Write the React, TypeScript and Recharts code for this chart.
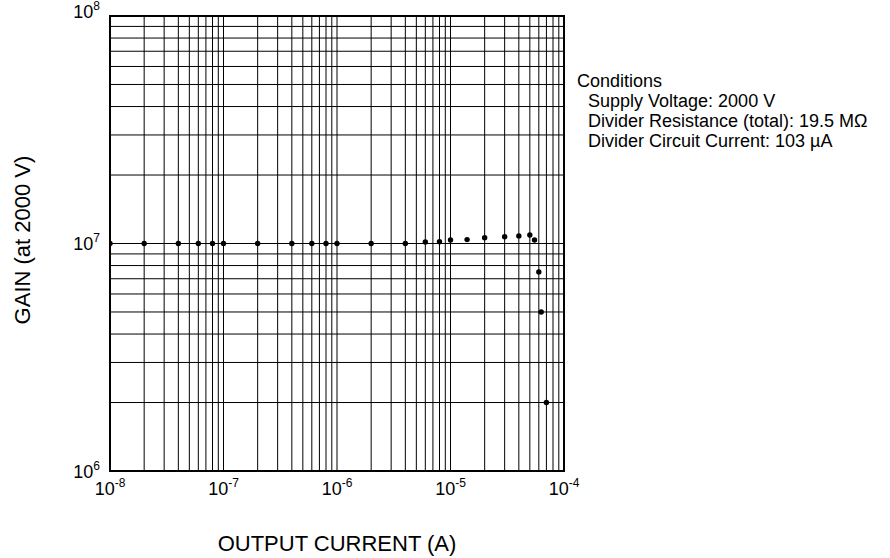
import { ScatterChart, Scatter, XAxis, YAxis, CartesianGrid, ReferenceArea } from "recharts";

// output current (A) at each measured point
const currents = [
  1e-8, 2e-8, 4e-8, 6e-8, 8e-8, 1e-7, 2e-7, 4e-7, 6e-7, 8e-7, 1e-6, 2e-6, 4e-6,
  6e-6, 8e-6, 1e-5, 1.4e-5, 2e-5, 3e-5, 4e-5, 5e-5, 5.5e-5, 6e-5, 6.3e-5, 7e-5,
];
// gain at 2000 V
const gains = [
  1e7, 1e7, 1e7, 1e7, 1e7, 1e7, 1e7, 1e7, 1e7, 1e7, 1e7, 1e7, 1e7,
  1.015e7, 1.018e7, 1.036e7, 1.04e7, 1.06e7, 1.07e7, 1.08e7, 1.09e7, 1.036e7, 7.5e6, 5.0e6, 2.0e6,
];

const xDecades = [1e-8, 1e-7, 1e-6, 1e-5, 1e-4];
const xExponents = ["-8", "-7", "-6", "-5", "-4"];
const yDecades = [1e6, 1e7, 1e8];
const yExponents = ["6", "7", "8"];

const conditionTitle = "Conditions";
const conditionLines = [
  "Supply Voltage: 2000 V",
  "Divider Resistance (total): 19.5 MΩ",
  "Divider Circuit Current: 103 µA",
];

const xTitle = "OUTPUT CURRENT (A)";
const yTitle = "GAIN (at 2000 V)";

const FONT = "'Liberation Sans', Arial, Helvetica, sans-serif";

// 1..9 inside each decade, for the log grid
function logGrid(decades: number[]) {
  const out: number[] = [];
  for (let i = 0; i < decades.length - 1; i++) {
    for (let m = 1; m < 10; m++) out.push(decades[i] * m);
  }
  out.push(decades[decades.length - 1]);
  return out;
}

const data = currents.map((c, i) => ({ current: c, gain: gains[i] }));

function decadeIndex(v: number, decades: number[]) {
  return decades.findIndex((d) => Math.abs(Math.log10(v) - Math.log10(d)) < 1e-6);
}

const XTick = (props: any) => {
  const { x, y, payload } = props;
  const i = decadeIndex(payload.value, xDecades);
  if (i < 0) return <g />;
  return (
    <text x={x} y={y + 24} textAnchor="middle" fontFamily={FONT} fontSize={18} fill="#000">
      <tspan>10</tspan>
      <tspan dy={-8} fontSize={12}>{xExponents[i]}</tspan>
    </text>
  );
};

const YTick = (props: any) => {
  const { y, payload } = props;
  const i = decadeIndex(payload.value, yDecades);
  if (i < 0) return <g />;
  // top label sits a little higher in the original
  const base = i === yDecades.length - 1 ? y + 2 : y + 6.5;
  return (
    <text x={100} y={base} textAnchor="end" fontFamily={FONT} fontSize={18} fill="#000">
      <tspan>10</tspan>
      <tspan dy={-8} fontSize={12}>{yExponents[i]}</tspan>
    </text>
  );
};

export default function App() {
  return (
    <div style={{ position: "absolute", left: 0, top: 0, width: 890, height: 558, background: "#fff" }}>
      <ScatterChart width={890} height={558} margin={{ top: 16, right: 326, bottom: 0, left: 20 }}>
        <CartesianGrid stroke="#000" strokeWidth={1} />
        <XAxis
          type="number"
          dataKey="current"
          scale="log"
          domain={[1e-8, 1e-4]}
          ticks={logGrid(xDecades)}
          interval={0}
          allowDataOverflow
          height={87}
          tickLine={false}
          tickSize={0}
          tickMargin={0}
          axisLine={false}
          tick={<XTick />}
        />
        <YAxis
          type="number"
          dataKey="gain"
          scale="log"
          domain={[1e6, 1e8]}
          ticks={logGrid(yDecades)}
          interval={0}
          allowDataOverflow
          width={90}
          tickLine={false}
          tickSize={0}
          tickMargin={0}
          axisLine={false}
          tick={<YTick />}
        />
        <ReferenceArea x1={1e-8} x2={1e-4} y1={1e6} y2={1e8} fill="none" stroke="#000" strokeWidth={2} />
        <Scatter data={data} fill="#000" isAnimationActive={false} shape={(p: any) => <circle cx={p.cx} cy={p.cy} r={2.7} fill="#000" />} />
      </ScatterChart>

      <div
        style={{
          position: "absolute",
          left: 23,
          top: 240,
          transform: "translate(-50%, -50%) rotate(-90deg)",
          whiteSpace: "nowrap",
          fontFamily: FONT,
          fontSize: 22,
        }}
      >
        {yTitle}
      </div>
      <div
        style={{
          position: "absolute",
          left: 337,
          top: 544,
          transform: "translate(-50%, -50%)",
          whiteSpace: "nowrap",
          fontFamily: FONT,
          fontSize: 22,
        }}
      >
        {xTitle}
      </div>

      <div style={{ position: "absolute", left: 577, top: 71, fontFamily: FONT, fontSize: 18, lineHeight: "20px" }}>
        <div>{conditionTitle}</div>
        {conditionLines.map((l) => (
          <div key={l} style={{ paddingLeft: 11, whiteSpace: "nowrap" }}>
            {l}
          </div>
        ))}
      </div>
    </div>
  );
}
